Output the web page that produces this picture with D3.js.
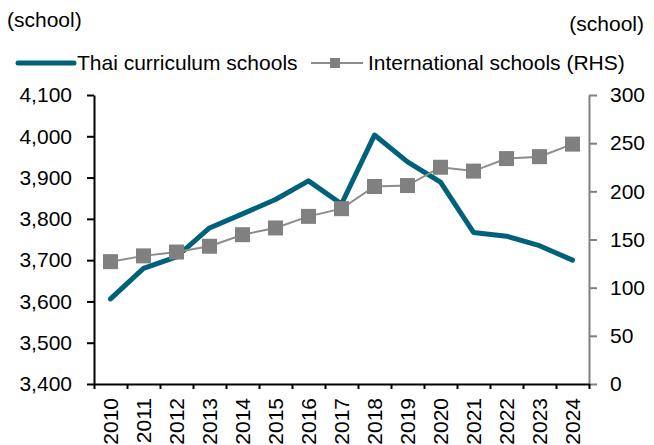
<!DOCTYPE html>
<html>
<head>
<meta charset="utf-8">
<script src="https://cdn.jsdelivr.net/npm/d3@7"></script>
<style>
  html, body { margin: 0; padding: 0; background: #fff; }
  svg { display: block; font-family: "Liberation Sans", Arial, sans-serif; }
</style>
</head>
<body>
<svg id="chart" width="654" height="445"></svg>
<script>
const years = ["2010","2011","2012","2013","2014","2015","2016","2017","2018","2019","2020","2021","2022","2023","2024"];
const thaiSchools = [3606, 3680, 3708, 3778, 3812, 3847, 3892, 3836, 4003, 3938, 3889, 3767, 3758, 3735, 3700];
const intlSchools = [127, 133, 137, 143, 155, 162, 174, 182, 205, 206, 225, 221, 234, 236, 249];
const leftTicks = [3400, 3500, 3600, 3700, 3800, 3900, 4000, 4100];
const rightTicks = [0, 50, 100, 150, 200, 250, 300];
const seriesNames = ["Thai curriculum schools", "International schools (RHS)"];
const unitLabel = "(school)";

const svg = d3.select("#chart");
const FS = "21px";
const teal = "#00617b";
const grey = "#808080";

const pL = 94, pR = 589, pT = 95, pB = 384;

const x = d3.scaleBand().domain(years).range([pL, pR]).padding(0);
const xEdge = d3.scaleLinear().domain([0, years.length]).range([pL, pR]);
const yL = d3.scaleLinear().domain([3400, 4100]).range([pB, pT]);
const yR = d3.scaleLinear().domain([0, 300]).range([pB, pT]);
const cx = d => x(d) + x.bandwidth() / 2;

// Right axis (grey)
const gR = svg.append("g").attr("transform", `translate(${pR},0)`)
  .call(d3.axisRight(yR).tickValues(rightTicks).tickSize(8).tickPadding(13).tickSizeOuter(0));
gR.select(".domain").attr("stroke", grey).attr("stroke-width", 2);
gR.selectAll(".tick line").attr("stroke", grey).attr("stroke-width", 2);
gR.selectAll("text").style("font-size", FS).attr("fill", "#000");

// Left axis (black)
const gL = svg.append("g").attr("transform", `translate(${pL},0)`)
  .call(d3.axisLeft(yL).tickValues(leftTicks).tickFormat(d3.format(",")).tickSize(7).tickPadding(15).tickSizeOuter(0));
gL.select(".domain").attr("stroke", "#000").attr("stroke-width", 2);
gL.selectAll(".tick line").attr("stroke", "#000").attr("stroke-width", 2);
gL.selectAll("text").style("font-size", FS).attr("fill", "#000");

// X axis: boundary ticks
const gXt = svg.append("g").attr("transform", `translate(0,${pB})`)
  .call(d3.axisBottom(xEdge).tickValues(d3.range(0, years.length + 1)).tickFormat("").tickSize(5).tickSizeOuter(0));
gXt.select(".domain").attr("stroke", "#000").attr("stroke-width", 2);
gXt.selectAll(".tick line").attr("stroke", "#000").attr("stroke-width", 2);

// X axis labels
const gX = svg.append("g").attr("transform", `translate(0,${pB})`)
  .call(d3.axisBottom(x).tickSize(0).tickSizeOuter(0));
gX.select(".domain").remove();
gX.selectAll("text")
  .style("font-size", FS).attr("fill", "#000")
  .attr("transform", "rotate(-90)")
  .attr("x", -14).attr("y", 0).attr("dy", "0.35em")
  .style("text-anchor", "end");

// Thai line
svg.append("path")
  .datum(thaiSchools)
  .attr("fill", "none")
  .attr("stroke", teal)
  .attr("stroke-width", 5)
  .attr("stroke-linecap", "round")
  .attr("stroke-linejoin", "round")
  .attr("d", d3.line().x((d, i) => cx(years[i])).y(d => yL(d)));

// International line + markers
svg.append("path")
  .datum(intlSchools)
  .attr("fill", "none")
  .attr("stroke", "#8c8c8c")
  .attr("stroke-width", 2)
  .attr("d", d3.line().x((d, i) => cx(years[i])).y(d => yR(d)));
const ms = 15;
svg.append("g").selectAll("rect").data(intlSchools).join("rect")
  .attr("x", (d, i) => cx(years[i]) - ms / 2)
  .attr("y", d => yR(d) - ms / 2)
  .attr("width", ms).attr("height", ms)
  .attr("fill", grey);

// Unit labels
svg.append("text").attr("x", 7).attr("y", 27).style("font-size", FS).text(unitLabel);
svg.append("text").attr("x", 644).attr("y", 31).attr("text-anchor", "end").style("font-size", FS).text(unitLabel);

// Legend
const ly = 63;
svg.append("line").attr("x1", 18).attr("x2", 74).attr("y1", ly).attr("y2", ly)
  .attr("stroke", teal).attr("stroke-width", 5).attr("stroke-linecap", "round");
svg.append("text").attr("x", 77).attr("y", 70).style("font-size", FS).text(seriesNames[0]);
svg.append("line").attr("x1", 311).attr("x2", 363).attr("y1", ly).attr("y2", ly)
  .attr("stroke", "#8c8c8c").attr("stroke-width", 2);
svg.append("rect").attr("x", 335 - 5).attr("y", ly - 5).attr("width", 10).attr("height", 10).attr("fill", grey);
svg.append("text").attr("x", 368).attr("y", 70).style("font-size", FS).text(seriesNames[1]);
</script>
</body>
</html>
